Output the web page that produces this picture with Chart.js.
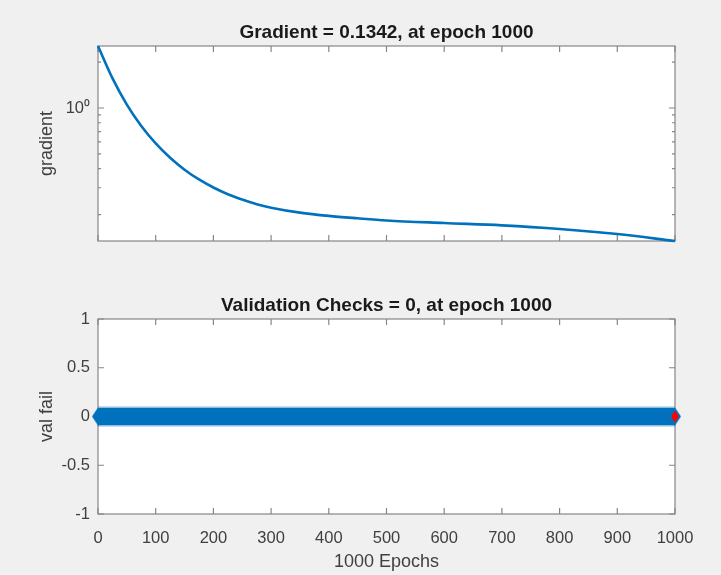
<!DOCTYPE html>
<html><head><meta charset="utf-8">
<script src="https://cdn.jsdelivr.net/npm/chart.js@4.4.1/dist/chart.umd.min.js"></script>
<style>
html,body{margin:0;padding:0;background:#f0f0f0;}
#wrap{position:relative;width:721px;height:575px;overflow:hidden;background:#f0f0f0;}
#c1{position:absolute;left:0;top:0;}
#c2{position:absolute;left:0;top:270px;}
</style></head><body>
<div id="wrap"><canvas id="c1" width="721" height="270"></canvas><canvas id="c2" width="721" height="305"></canvas></div>
<script>
// ---- data ----
const gradEpochs = [0, 25, 50, 75, 100, 125, 150, 175, 200, 225, 250, 275, 300, 350, 400, 450, 500, 600, 700, 800, 900, 1000];
const gradValues = [2.55, 1.570, 1.052, 0.762, 0.586, 0.472, 0.394, 0.340, 0.301, 0.272, 0.251, 0.234, 0.222, 0.206, 0.196, 0.189, 0.183, 0.176, 0.170, 0.161, 0.149, 0.1342];
const valEpochs = [0, 100, 200, 300, 400, 500, 600, 700, 800, 900, 1000];
const valFail = [0, 0, 0, 0, 0, 0, 0, 0, 0, 0, 0];
const bestEpoch = [1000];
const bestValFail = [0];
const epochTicks = [0, 100, 200, 300, 400, 500, 600, 700, 800, 900, 1000];
const valTicks = [-1, -0.5, 0, 0.5, 1];
const gradMajorTicks = [1];
const gradMinorTicks = [0.2, 0.3, 0.4, 0.5, 0.6, 0.7, 0.8, 0.9, 2];
const gradMin = 0.1342, gradMax = 2.55;
const topTitle = 'Gradient = 0.1342, at epoch 1000';
const bottomTitle = 'Validation Checks = 0, at epoch 1000';
const xLabel = '1000 Epochs';
const yLabelTop = 'gradient';
const yLabelBottom = 'val fail';

// ---- styles ----
const FONT = "'Liberation Sans', Arial, Helvetica, sans-serif";
const BLUE = '#0072BD';
const AXIS = '#868686';
const TEXT = '#404040';
const TITLE = '#1a1a1a';

function diamond(w, h, color) {
  const c = document.createElement('canvas');
  c.width = w; c.height = h;
  const g = c.getContext('2d');
  g.fillStyle = color;
  g.beginPath();
  g.moveTo(w / 2, 0); g.lineTo(w, h / 2); g.lineTo(w / 2, h); g.lineTo(0, h / 2);
  g.closePath(); g.fill();
  return c;
}
const blueDiamond = diamond(12, 18, BLUE);
const redDiamond = diamond(8, 12, '#ff0000');

const frame = {
  id: 'frame',
  beforeDraw(chart) {
    const {ctx, chartArea: a} = chart;
    ctx.save();
    ctx.fillStyle = '#f0f0f0';
    ctx.fillRect(0, 0, chart.width, chart.height);
    ctx.fillStyle = '#ffffff';
    ctx.fillRect(a.left, a.top, a.right - a.left, a.bottom - a.top);
    ctx.restore();
  },
  beforeDatasetsDraw(chart, args, opts) {
    const {ctx, chartArea: a, scales} = chart;
    ctx.save();
    ctx.strokeStyle = AXIS;
    ctx.lineWidth = 1.2;
    ctx.strokeRect(a.left, a.top, a.right - a.left, a.bottom - a.top);
    ctx.beginPath();
    (opts.xTicks || []).forEach(v => {
      const px = scales.x.getPixelForValue(v);
      ctx.moveTo(px, a.bottom); ctx.lineTo(px, a.bottom - 6);
      ctx.moveTo(px, a.top); ctx.lineTo(px, a.top + 6);
    });
    (opts.yTicks || []).forEach(v => {
      const py = scales.y.getPixelForValue(v);
      ctx.moveTo(a.left, py); ctx.lineTo(a.left + 6, py);
      ctx.moveTo(a.right, py); ctx.lineTo(a.right - 6, py);
    });
    (opts.yMinor || []).forEach(v => {
      const py = scales.y.getPixelForValue(v);
      ctx.moveTo(a.left, py); ctx.lineTo(a.left + 3, py);
      ctx.moveTo(a.right, py); ctx.lineTo(a.right - 3, py);
    });
    ctx.stroke();
    ctx.restore();
  }
};

function titleOpts(text, top, bottom) {
  return {display: true, fullSize: false, text, color: TITLE, font: {family: FONT, size: 19, weight: 'bold', lineHeight: 1.2}, padding: {top, bottom}};
}

// ---- top chart: gradient ----
new Chart(document.getElementById('c1'), {
  type: 'line',
  data: {
    datasets: [{
      data: gradEpochs.map((x, i) => ({x, y: gradValues[i]})),
      borderColor: BLUE, borderWidth: 2.6, pointRadius: 0,
      cubicInterpolationMode: 'monotone', clip: false
    }]
  },
  options: {
    responsive: false, animation: false, events: [],
    layout: {padding: {left: 0, right: 46, top: 0, bottom: 0}},
    plugins: {legend: {display: false}, tooltip: {enabled: false},
      title: titleOpts(topTitle, 21.6, 1.6),
      frame: {xTicks: epochTicks, yTicks: gradMajorTicks, yMinor: gradMinorTicks}},
    scales: {
      x: {type: 'linear', min: 0, max: 1000,
        afterBuildTicks: s => { s.ticks = epochTicks.map(v => ({value: v})); },
        ticks: {display: false}, grid: {display: false}, border: {display: false},
        afterFit: s => { s.height = 29; }},
      y: {type: 'logarithmic', min: gradMin, max: gradMax,
        afterBuildTicks: s => { s.ticks = gradMajorTicks.map(v => ({value: v, major: true})); },
        ticks: {color: TEXT, font: {family: FONT, size: 16.5}, padding: 8, callback: v => (v === 1 ? '10\u2070' : '')},
        grid: {display: false, drawTicks: false}, border: {display: false},
        title: {display: true, text: yLabelTop, color: TEXT, font: {family: FONT, size: 18}, padding: {top: 36, bottom: 0}},
        afterFit: s => { s.width = 98; }}
    }
  },
  plugins: [frame]
});

// ---- bottom chart: validation checks ----
const lastIdx = valEpochs.length - 1;
new Chart(document.getElementById('c2'), {
  type: 'line',
  data: {
    datasets: [
      {data: valEpochs.map((x, i) => ({x, y: valFail[i]})), order: 0,
        borderColor: 'rgba(0,114,189,0.45)', borderWidth: 20, pointRadius: 0, clip: false},
      {data: valEpochs.map((x, i) => ({x, y: valFail[i]})), order: -1,
        borderColor: BLUE, borderWidth: 17, clip: false,
        pointStyle: blueDiamond,
        pointRadius: c => (c.dataIndex === 0 || c.dataIndex === lastIdx ? 9 : 0)},
      {data: bestEpoch.map((x, i) => ({x, y: bestValFail[i]})), order: -2,
        showLine: false, pointStyle: redDiamond, pointRadius: 6, clip: false}
    ]
  },
  options: {
    responsive: false, animation: false, events: [],
    layout: {padding: {left: 0, right: 46, top: 0, bottom: 0}},
    plugins: {legend: {display: false}, tooltip: {enabled: false},
      title: titleOpts(bottomTitle, 24.6, 1.6),
      frame: {xTicks: epochTicks, yTicks: valTicks}},
    scales: {
      x: {type: 'linear', min: 0, max: 1000,
        afterBuildTicks: s => { s.ticks = epochTicks.map(v => ({value: v})); },
        ticks: {color: TEXT, font: {family: FONT, size: 16.5}, padding: 15, maxRotation: 0, autoSkip: false, callback: v => String(v)},
        grid: {display: false, drawTicks: false}, border: {display: false},
        title: {display: true, text: xLabel, color: TEXT, font: {family: FONT, size: 18}, padding: {top: 0, bottom: 2.5}},
        afterFit: s => { s.height = 61; }},
      y: {type: 'linear', min: -1, max: 1,
        afterBuildTicks: s => { s.ticks = valTicks.map(v => ({value: v})); },
        ticks: {color: TEXT, font: {family: FONT, size: 16.5}, padding: 8, callback: v => String(v)},
        grid: {display: false, drawTicks: false}, border: {display: false},
        title: {display: true, text: yLabelBottom, color: TEXT, font: {family: FONT, size: 18}, padding: {top: 36, bottom: 0}},
        afterFit: s => { s.width = 98; }}
    }
  },
  plugins: [frame]
});
</script>
</body></html>
